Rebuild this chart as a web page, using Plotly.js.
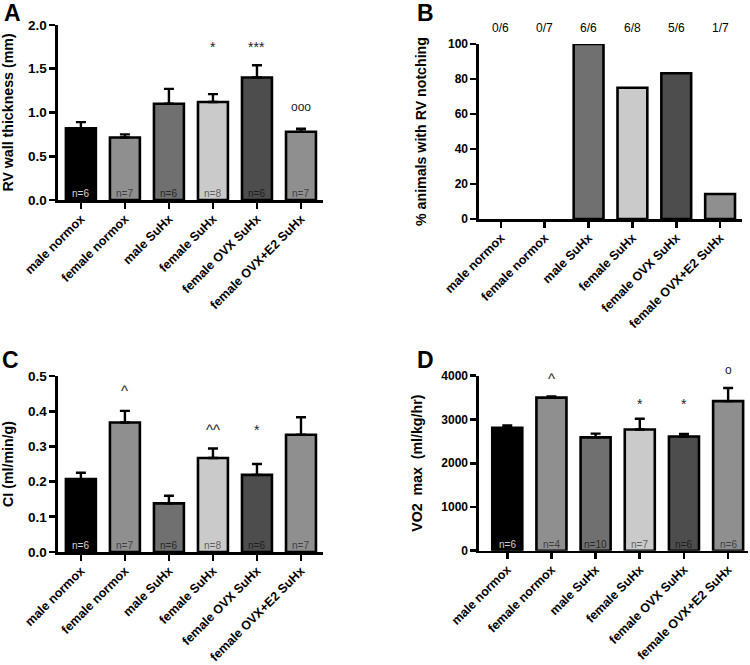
<!DOCTYPE html>
<html>
<head>
<meta charset="utf-8">
<script src="https://cdn.plot.ly/plotly-3.0.1.min.js"></script>
<style>html,body{margin:0;padding:0;background:#fff;}#chart{width:750px;height:665px;}</style>
</head>
<body>
<div id="chart"></div>
<script>
// ---- data ----
const groups = ["male normox", "female normox", "male SuHx", "female SuHx", "female OVX SuHx", "female OVX+E2 SuHx"];

const rvWall = [0.82, 0.715, 1.10, 1.12, 1.40, 0.78];
const rvWallErr = [0.07, 0.035, 0.17, 0.09, 0.14, 0.035];
const rvWallN = ["n=6", "n=7", "n=6", "n=8", "n=6", "n=7"];
const rvWallSig = ["", "", "", "*", "***", "ooo"];
const rvWallSigY = [null, null, null, 1.80, 1.80, 1.06];

const notchPct = [0, 0, 100, 75, 83.3, 14.3];
const notchFrac = ["0/6", "0/7", "6/6", "6/8", "5/6", "1/7"];

const ci = [0.207, 0.368, 0.138, 0.267, 0.219, 0.333];
const ciErr = [0.018, 0.033, 0.022, 0.027, 0.031, 0.05];
const ciN = ["n=6", "n=7", "n=6", "n=8", "n=6", "n=7"];
const ciSig = ["", "^", "", "^^", "*", ""];
const ciSigY = [null, 0.466, null, 0.357, 0.358, null];

const vo2 = [2810, 3500, 2590, 2770, 2610, 3420];
const vo2Err = [55, 25, 85, 245, 60, 300];
const vo2N = ["n=6", "n=4", "n=10", "n=7", "n=6", "n=6"];
const vo2Sig = ["", "^", "", "*", "*", "o"];
const vo2SigY = [null, 3994, null, 3445, 3445, 4123];

// ---- style ----
const barColors = ["#000000", "#8f8f8f", "#707070", "#cacaca", "#4d4d4d", "#8f8f8f"];
const nColors = ["#d0d0d0", "#404040", "#282828", "#606060", "#1e1e1e", "#404040"];
const FONT = "Liberation Sans, Arial, Helvetica, sans-serif";

function barTrace(vals, errs, xa, ya) {
  const t = {
    type: "bar", x: groups, y: vals, xaxis: xa, yaxis: ya,
    width: 0.68,
    marker: {color: barColors, line: {color: "#000", width: vals.map(v => v === 0 ? 0 : 2.6)}},
    hoverinfo: "x+y"
  };
  if (errs) {
    t.error_y = {type: "data", symmetric: false, array: errs, arrayminus: errs.map(() => 0),
                 color: "#000", thickness: 2.4, width: 5};
  }
  return t;
}

const traces = [
  barTrace(rvWall, rvWallErr, "x", "y"),
  barTrace(notchPct, null, "x2", "y2"),
  barTrace(ci, ciErr, "x3", "y3"),
  barTrace(vo2, vo2Err, "x4", "y4")
];

function W(px) { return px / 750; }
function H(px) { return 1 - px / 665; }

function xax(l, r, range, anchor) {
  return {
    domain: [W(l), W(r)], anchor: anchor, type: "category", range: range,
    showline: true, linecolor: "#000", linewidth: 2.6, mirror: false,
    ticks: "outside", ticklen: 6, tickwidth: 2.6, tickcolor: "#000",
    tickangle: -45, ticklabelstandoff: -2,
    tickfont: {family: FONT, size: 12.5, color: "#000", weight: 700},
    showgrid: false, zeroline: false, fixedrange: true
  };
}
function yax(top, bot, range, dtick, fmt, title, anchor, tsize, standoff) {
  return {
    domain: [H(bot), H(top)], anchor: anchor, range: range, dtick: dtick, tick0: 0,
    tickformat: fmt,
    showline: true, linecolor: "#000", linewidth: 2.6,
    ticks: "outside", ticklen: 6, tickwidth: 2.6, tickcolor: "#000",
    tickfont: {family: FONT, size: tsize, color: "#000", weight: 700},
    showgrid: false, zeroline: false, fixedrange: true,
    title: {text: title, font: {family: FONT, size: 14.2, color: "#000", weight: 700}, standoff: standoff}
  };
}

const annotations = [];
function letters(txt, x, y) {
  annotations.push({text: txt, xref: "paper", yref: "paper", x: W(x), y: H(y), showarrow: false,
    xanchor: "center", yanchor: "middle", font: {family: FONT, size: 23, color: "#000", weight: 700}});
}
letters("A", 12, 13);
letters("B", 426, 13);
letters("C", 10, 360);
letters("D", 426, 360);

function nLabels(arr, xa, ya) {
  arr.forEach((t, i) => annotations.push({text: t, xref: xa, yref: ya + " domain", x: i, y: 0,
    yanchor: "bottom", yshift: -1, showarrow: false,
    font: {family: FONT, size: 10, color: nColors[i]}}));
}
nLabels(rvWallN, "x", "y");
nLabels(ciN, "x3", "y3");
nLabels(vo2N, "x4", "y4");

function sig(arr, ys, xa, ya, ymax) {
  arr.forEach((t, i) => {
    if (!t) return;
    const isCaret = t.indexOf("^") >= 0;
    const isStar = t.indexOf("*") >= 0;
    const isO = t.indexOf("o") >= 0;
    annotations.push({text: t, xref: xa, yref: ya + " domain", x: i, y: ys[i] / ymax, showarrow: false,
      yanchor: "middle", yshift: isStar ? -4 : (isCaret ? -3 : 0),
      font: {family: FONT, size: isCaret ? 15 : (isO ? 12 : 14), color: "#222"}});
  });
}
sig(rvWallSig, rvWallSigY, "x", "y", 2.0);
sig(ciSig, ciSigY, "x3", "y3", 0.5);
sig(vo2Sig, vo2SigY, "x4", "y4", 4000);

notchFrac.forEach((t, i) => annotations.push({text: t, xref: "x2", yref: "paper", x: i, y: H(28),
  yanchor: "middle", showarrow: false, font: {family: FONT, size: 12, color: "#000"}}));

const layout = {
  width: 750, height: 665,
  margin: {l: 0, r: 0, t: 0, b: 0},
  paper_bgcolor: "#fff", plot_bgcolor: "#fff",
  showlegend: false, bargap: 0.3,
  font: {family: FONT, color: "#000"},
  xaxis: xax(58, 323, [-0.52, 5.5], "y"),
  yaxis: yax(25, 200, [0, 2.0], 0.5, ".1f", "RV wall thickness (mm)", "x", 13.5, 17),
  xaxis2: xax(479, 742, [-0.5, 5.5], "y2"),
  yaxis2: yax(44, 219, [0, 100], 20, "d", "% animals with RV notching", "x2", 12, 18),
  xaxis3: xax(58, 323, [-0.52, 5.5], "y3"),
  yaxis3: yax(376, 552, [0, 0.5], 0.1, ".1f", "CI (ml/min/g)", "x3", 13.5, 17),
  xaxis4: xax(479, 748, [-0.64, 5.45], "y4"),
  yaxis4: yax(375.7, 550.7, [0, 4000], 1000, "d", "VO2\u00a0\u00a0max\u00a0\u00a0(ml/kg/hr)", "x4", 12, 16),
  annotations: annotations
};

Plotly.newPlot("chart", traces, layout, {displayModeBar: false, staticPlot: true});
</script>
</body>
</html>
